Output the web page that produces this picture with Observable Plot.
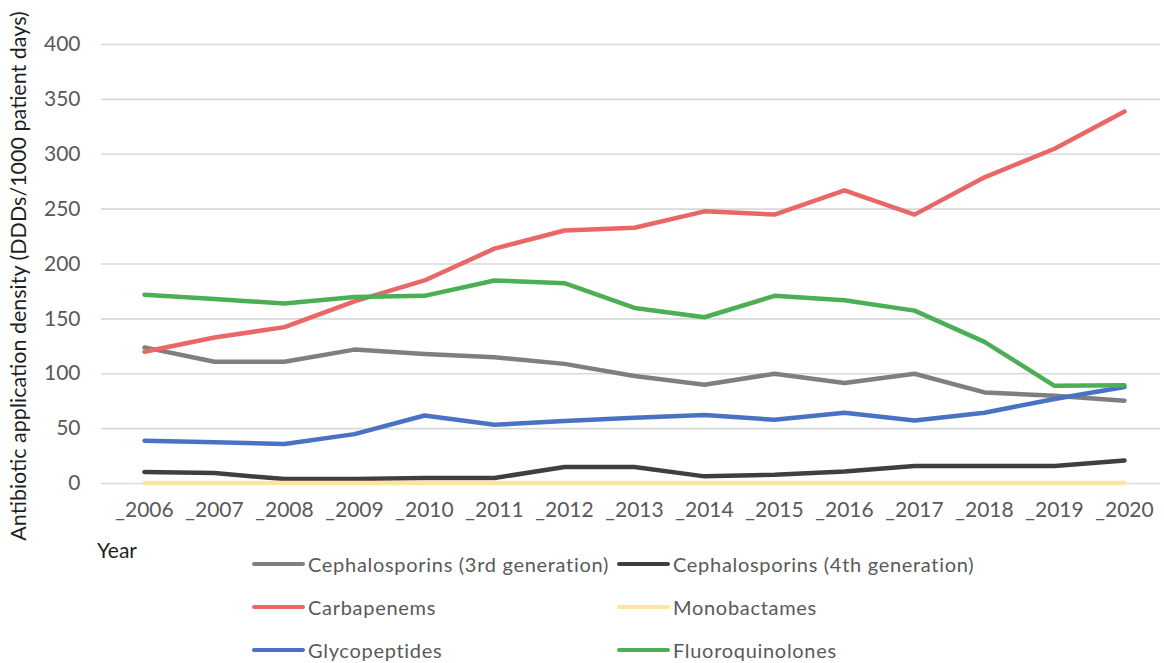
<!DOCTYPE html>
<html>
<head>
<meta charset="utf-8">
<script src="https://cdn.jsdelivr.net/npm/d3@7"></script>
<script src="https://cdn.jsdelivr.net/npm/@observablehq/plot@0.6"></script>
<style>
  html, body { margin: 0; padding: 0; background: #fff; }
  #wrap { position: relative; width: 1164px; font-family: Lato, "Open Sans", sans-serif; }
  #below { position: relative; height: 131px; margin-top: -18px; }
  .year { position: absolute; left: 97px; top: 7px; font-size: 21px; line-height: 21px; color: #1f1f1f; }
  .item { position: absolute; display: flex; align-items: center; height: 22px; font-size: 20px; line-height: 22px; letter-spacing: 0.7px; color: #595959; white-space: nowrap; }
  .item .sw { width: 53px; height: 4.5px; border-radius: 3px; margin-right: 3px; }
</style>
</head>
<body>
<div id="wrap">
  <div id="chart"></div>
  <div id="below"></div>
</div>
<script>
// Antibiotic application density by drug class, 2006-2020 (DDDs per 1000 patient days)
const years = ["2006", "2007", "2008", "2009", "2010", "2011", "2012", "2013", "2014", "2015", "2016", "2017", "2018", "2019", "2020"];

const cephalosporins3 = [124, 111, 111, 122, 118, 115, 109, 98, 90, 100, 91.5, 100, 83, 80, 75.5];
const cephalosporins4 = [10.5, 9.5, 4, 4, 5, 5, 15, 15, 6.5, 8, 11, 16, 16, 16, 21];
const carbapenems = [120, 133, 142.5, 166, 185, 214, 230.5, 233, 248, 245, 267, 245, 279, 305, 339];
const monobactames = [0.5, 0.5, 0.5, 0.5, 0.5, 0.5, 0.5, 0.5, 0.5, 0.5, 0.5, 0.5, 0.5, 0.5, 0.5];
const glycopeptides = [39, 37.5, 36, 45, 62, 53.5, 57, 60, 62.5, 58, 64.5, 57.5, 64.5, 77, 88];
const fluoroquinolones = [172, 168, 164, 170, 171, 185, 182.5, 160, 151.5, 171, 167, 157.5, 129, 89, 89.5];

const seriesNames = [
  "Cephalosporins (3rd generation)",
  "Cephalosporins (4th generation)",
  "Carbapenems",
  "Monobactames",
  "Glycopeptides",
  "Fluoroquinolones"
];
const seriesValues = [cephalosporins3, cephalosporins4, carbapenems, monobactames, glycopeptides, fluoroquinolones];
const seriesColors = ["#7f7f7f", "#3f3f3f", "#ea6767", "#ffe699", "#4a72c4", "#4cae55"];

const yTicks = [0, 50, 100, 150, 200, 250, 300, 350, 400];
const yTitle = "Antibiotic application density (DDDs/1000 patient days)";

// long-format table: one row per class and year
const rows = seriesNames.flatMap((name, i) =>
  years.map((year, j) => ({ series: name, year, value: seriesValues[i][j] }))
);

const chart = Plot.plot({
  width: 1164,
  height: 550,
  marginTop: 44,
  marginBottom: 67,
  marginLeft: 101,
  marginRight: 4,
  style: { fontFamily: "Lato, 'Open Sans', sans-serif", fontSize: "21px", color: "#595959", background: "#fff" },
  x: { type: "point", domain: years, range: [139, 1129], padding: 0 },
  y: { domain: [0, 400] },
  color: { domain: seriesNames, range: seriesColors },
  marks: [
    Plot.ruleY(yTicks, { stroke: "#d9d9d9", strokeWidth: 1.6 }),
    Plot.axisY({
      ticks: yTicks,
      tickSize: 0,
      tickPadding: 21,
      label: null,
      fontSize: 21
    }),
    // rotated y-axis title, nudged down a little from the frame centre
    Plot.text([yTitle], {
      text: d => d,
      frameAnchor: "left",
      textAnchor: "middle",
      lineAnchor: "middle",
      rotate: -90,
      dx: -82,
      dy: 12,
      fontSize: 21.5,
      fill: "#1f1f1f"
    }),
    Plot.axisX({
      tickSize: 0,
      tickPadding: 19,
      tickFormat: d => "_" + d,
      label: null,
      fontSize: 21
    }),
    Plot.line(rows, {
      x: "year",
      y: "value",
      z: "series",
      stroke: "series",
      strokeWidth: 4.5,
      strokeLinecap: "round",
      strokeLinejoin: "round"
    })
  ]
});
document.getElementById("chart").appendChild(chart);

// x title and legend below the plot
const below = document.getElementById("below");
const yearLabel = document.createElement("div");
yearLabel.className = "year";
yearLabel.textContent = "Year";
below.appendChild(yearLabel);

const legendCols = [252, 617];
const legendRows = [32, 75, 118];
seriesNames.forEach((name, i) => {
  const item = document.createElement("div");
  item.className = "item";
  item.style.left = legendCols[i % 2] + "px";
  item.style.top = (legendRows[Math.floor(i / 2)] - 11) + "px";
  const sw = document.createElement("span");
  sw.className = "sw";
  sw.style.background = seriesColors[i];
  const tx = document.createElement("span");
  tx.textContent = name;
  item.appendChild(sw);
  item.appendChild(tx);
  below.appendChild(item);
});
</script>
</body>
</html>
